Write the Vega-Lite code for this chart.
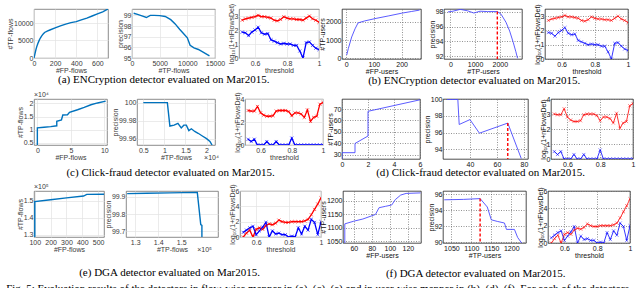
{
"$schema": "https://vega.github.io/schema/vega-lite/v6.json",
"padding": {"left": 6, "top": 2, "right": 0, "bottom": 0},
"background": "white",
"datasets": {
"a1": [{"x":0,"y":0},{"x":5,"y":600},{"x":10,"y":1300},{"x":20,"y":2600},{"x":30,"y":3600},{"x":40,"y":4400},{"x":50,"y":5100},{"x":60,"y":5700},{"x":70,"y":6200},{"x":85,"y":6800},{"x":100,"y":7300},{"x":125,"y":7700},{"x":150,"y":8000},{"x":200,"y":8600},{"x":250,"y":9200},{"x":300,"y":9700},{"x":350,"y":10100},{"x":400,"y":10400},{"x":440,"y":10800},{"x":470,"y":11100},{"x":500,"y":11400},{"x":550,"y":12000},{"x":600,"y":12600},{"x":650,"y":13200},{"x":700,"y":14000}],
"a2": [{"x":300,"y":99.2},{"x":1000,"y":99.1},{"x":1800,"y":98.95},{"x":2600,"y":98.8},{"x":3300,"y":99.0},{"x":4000,"y":99.0},{"x":5000,"y":98.98},{"x":6000,"y":98.9},{"x":7000,"y":98.6},{"x":7800,"y":98.2},{"x":8600,"y":97.7},{"x":9300,"y":97.3},{"x":10000,"y":96.9},{"x":10500,"y":96.2},{"x":11200,"y":95.95},{"x":12000,"y":95.8},{"x":13000,"y":95.5},{"x":14000,"y":95.2}],
"thrA": [
{"t":0.52,"s":"red","v":2.7},{"t":0.54,"s":"red","v":2.8},{"t":0.56,"s":"red","v":2.85},{"t":0.58,"s":"red","v":2.9},{"t":0.60,"s":"red","v":2.95},{"t":0.62,"s":"red","v":3.05},{"t":0.64,"s":"red","v":2.95},{"t":0.66,"s":"red","v":2.95},{"t":0.68,"s":"red","v":2.9},{"t":0.70,"s":"red","v":2.85},{"t":0.72,"s":"red","v":2.7},{"t":0.74,"s":"red","v":2.65},{"t":0.76,"s":"red","v":2.75},{"t":0.78,"s":"red","v":2.95},{"t":0.80,"s":"red","v":2.85},{"t":0.82,"s":"red","v":2.8},{"t":0.84,"s":"red","v":2.8},{"t":0.86,"s":"red","v":2.75},{"t":0.88,"s":"red","v":2.75},{"t":0.90,"s":"red","v":2.7},{"t":0.92,"s":"red","v":2.85},{"t":0.94,"s":"red","v":3.0},{"t":0.96,"s":"red","v":2.8},{"t":0.98,"s":"red","v":2.7},{"t":1.00,"s":"red","v":2.55},
{"t":0.52,"s":"blue","v":1.85},{"t":0.54,"s":"blue","v":1.8},{"t":0.56,"s":"blue","v":1.6},{"t":0.58,"s":"blue","v":1.85},{"t":0.60,"s":"blue","v":2.0},{"t":0.62,"s":"blue","v":2.2},{"t":0.64,"s":"blue","v":1.8},{"t":0.66,"s":"blue","v":1.7},{"t":0.68,"s":"blue","v":1.75},{"t":0.70,"s":"blue","v":1.3},{"t":0.72,"s":"blue","v":1.2},{"t":0.74,"s":"blue","v":1.1},{"t":0.76,"s":"blue","v":1.0},{"t":0.78,"s":"blue","v":1.05},{"t":0.80,"s":"blue","v":1.0},{"t":0.82,"s":"blue","v":1.0},{"t":0.84,"s":"blue","v":0.9},{"t":0.86,"s":"blue","v":0.9},{"t":0.88,"s":"blue","v":0.5},{"t":0.90,"s":"blue","v":0.0},{"t":0.92,"s":"blue","v":1.1},{"t":0.94,"s":"blue","v":1.15},{"t":0.96,"s":"blue","v":0.9},{"t":0.98,"s":"blue","v":0.7},{"t":1.00,"s":"blue","v":0.6}],
"b1": [{"x":2,"y":170},{"x":8,"y":540},{"x":20,"y":1170},{"x":32,"y":1620},{"x":43,"y":1950},{"x":67,"y":2060},{"x":108,"y":2200},{"x":154,"y":2340},{"x":201,"y":2490},{"x":235,"y":2580},{"x":265,"y":2660}],
"b2": [{"x":-100,"y":98.0},{"x":100,"y":98.1},{"x":400,"y":98.35},{"x":700,"y":98.15},{"x":950,"y":97.85},{"x":1200,"y":98.1},{"x":1500,"y":98.05},{"x":1900,"y":98.05},{"x":2050,"y":97.7},{"x":2250,"y":96.6},{"x":2400,"y":95.4},{"x":2550,"y":93.8},{"x":2650,"y":92.6},{"x":2720,"y":91.7}],
"b2r": [{"x":1900,"y":98.05,"y2":91.6}],
"c1": [{"x":0,"y":4200},{"x":0,"y":10700},{"x":1,"y":10950},{"x":2,"y":11200},{"x":2.9,"y":11500},{"x":2.9,"y":13200},{"x":3.6,"y":13700},{"x":3.8,"y":15600},{"x":4.5,"y":15700},{"x":4.8,"y":16600},{"x":6,"y":17600},{"x":7,"y":18500},{"x":8,"y":19500},{"x":9,"y":20200},{"x":10.2,"y":20900}],
"c2": [{"x":5000,"y":100},{"x":10700,"y":100},{"x":11300,"y":99.974},{"x":12300,"y":99.975},{"x":13200,"y":99.977},{"x":14000,"y":99.972},{"x":14600,"y":99.975},{"x":15200,"y":99.975},{"x":15800,"y":99.969},{"x":16400,"y":99.971},{"x":17200,"y":99.968},{"x":18000,"y":99.966},{"x":19000,"y":99.963},{"x":20000,"y":99.96},{"x":20800,"y":99.957},{"x":21300,"y":99.953}],
"thrC": [
{"t":0.52,"s":"red","v":3.0},{"t":0.54,"s":"red","v":2.95},{"t":0.56,"s":"red","v":2.95},{"t":0.58,"s":"red","v":3.35},{"t":0.60,"s":"red","v":2.8},{"t":0.62,"s":"red","v":2.6},{"t":0.64,"s":"red","v":2.5},{"t":0.66,"s":"red","v":2.5},{"t":0.68,"s":"red","v":2.55},{"t":0.70,"s":"red","v":2.95},{"t":0.72,"s":"red","v":3.0},{"t":0.74,"s":"red","v":3.0},{"t":0.76,"s":"red","v":3.0},{"t":0.78,"s":"red","v":2.9},{"t":0.80,"s":"red","v":2.55},{"t":0.82,"s":"red","v":2.8},{"t":0.84,"s":"red","v":2.8},{"t":0.86,"s":"red","v":2.7},{"t":0.88,"s":"red","v":2.4},{"t":0.90,"s":"red","v":3.05},{"t":0.92,"s":"red","v":2.05},{"t":0.94,"s":"red","v":2.4},{"t":0.96,"s":"red","v":2.5},{"t":0.98,"s":"red","v":3.55},{"t":1.00,"s":"red","v":3.7},
{"t":0.52,"s":"blue","v":0.5},{"t":0.54,"s":"blue","v":0.3},{"t":0.56,"s":"blue","v":0.5},{"t":0.58,"s":"blue","v":0.0},{"t":0.60,"s":"blue","v":0.0},{"t":0.62,"s":"blue","v":0.0},{"t":0.64,"s":"blue","v":0.3},{"t":0.66,"s":"blue","v":0.0},{"t":0.68,"s":"blue","v":0.0},{"t":0.70,"s":"blue","v":0.3},{"t":0.72,"s":"blue","v":0.0},{"t":0.74,"s":"blue","v":0.0},{"t":0.76,"s":"blue","v":0.0},{"t":0.78,"s":"blue","v":0.0},{"t":0.80,"s":"blue","v":0.6},{"t":0.82,"s":"blue","v":0.0},{"t":0.84,"s":"blue","v":0.0},{"t":0.86,"s":"blue","v":0.0},{"t":0.88,"s":"blue","v":0.0},{"t":0.90,"s":"blue","v":0.0},{"t":0.92,"s":"blue","v":0.0},{"t":0.94,"s":"blue","v":0.0},{"t":0.96,"s":"blue","v":0.0},{"t":0.98,"s":"blue","v":0.0},{"t":1.00,"s":"blue","v":0.0}],
"d1": [{"x":0,"y":26.5},{"x":0,"y":32},{"x":1,"y":32},{"x":1,"y":40},{"x":2,"y":46.5},{"x":2,"y":68},{"x":6,"y":78}],
"d2": [{"x":23,"y":100},{"x":31,"y":100},{"x":32,"y":96.97},{"x":40,"y":97.56},{"x":47,"y":95.92},{"x":68,"y":97.14},{"x":78,"y":92.86}],
"d2r": [{"x":68,"y":97.14,"y2":92.8}],
"e1": [{"x":100,"y":128650},{"x":100,"y":149600},{"x":200,"y":150700},{"x":300,"y":151800},{"x":408,"y":152900},{"x":428,"y":153900},{"x":537,"y":154000}],
"e2": [{"x":126500,"y":99.918},{"x":135000,"y":99.92},{"x":145000,"y":99.922},{"x":157000,"y":99.925},{"x":158500,"y":99.74},{"x":159000,"y":99.735},{"x":159000,"y":99.668}],
"thrE": [
{"t":0.52,"s":"red","v":0.0},{"t":0.54,"s":"red","v":0.5},{"t":0.56,"s":"red","v":0.9},{"t":0.58,"s":"red","v":0.0},{"t":0.60,"s":"red","v":1.0},{"t":0.62,"s":"red","v":1.2},{"t":0.64,"s":"red","v":1.0},{"t":0.66,"s":"red","v":1.5},{"t":0.68,"s":"red","v":1.7},{"t":0.70,"s":"red","v":1.6},{"t":0.72,"s":"red","v":1.8},{"t":0.74,"s":"red","v":2.2},{"t":0.76,"s":"red","v":2.0},{"t":0.78,"s":"red","v":1.9},{"t":0.80,"s":"red","v":1.9},{"t":0.82,"s":"red","v":2.0},{"t":0.84,"s":"red","v":2.0},{"t":0.86,"s":"red","v":2.0},{"t":0.88,"s":"red","v":2.0},{"t":0.90,"s":"red","v":2.1},{"t":0.92,"s":"red","v":2.3},{"t":0.94,"s":"red","v":2.9},{"t":0.96,"s":"red","v":3.6},{"t":0.98,"s":"red","v":4.3},{"t":1.00,"s":"red","v":5.1},
{"t":0.52,"s":"blue","v":0.6},{"t":0.54,"s":"blue","v":0.9},{"t":0.56,"s":"blue","v":1.2},{"t":0.58,"s":"blue","v":1.4},{"t":0.60,"s":"blue","v":0.3},{"t":0.62,"s":"blue","v":0.8},{"t":0.64,"s":"blue","v":1.3},{"t":0.66,"s":"blue","v":1.9},{"t":0.68,"s":"blue","v":0.0},{"t":0.70,"s":"blue","v":0.8},{"t":0.72,"s":"blue","v":0.4},{"t":0.74,"s":"blue","v":0.5},{"t":0.76,"s":"blue","v":0.3},{"t":0.78,"s":"blue","v":0.3},{"t":0.80,"s":"blue","v":0.0},{"t":0.82,"s":"blue","v":0.1},{"t":0.84,"s":"blue","v":0.0},{"t":0.86,"s":"blue","v":1.2},{"t":0.88,"s":"blue","v":0.4},{"t":0.90,"s":"blue","v":1.4},{"t":0.92,"s":"blue","v":0.9},{"t":0.94,"s":"blue","v":2.3},{"t":0.96,"s":"blue","v":1.9},{"t":0.98,"s":"blue","v":0.3},{"t":1.00,"s":"blue","v":2.0}],
"f1": [{"x":50,"y":1044},{"x":50,"y":1115},{"x":60,"y":1125},{"x":70,"y":1133},{"x":80,"y":1145},{"x":84,"y":1150},{"x":88,"y":1175},{"x":95,"y":1180},{"x":102,"y":1185},{"x":106,"y":1205},{"x":112,"y":1222},{"x":118,"y":1228},{"x":134,"y":1230}],
"f2": [{"x":1032,"y":95.3},{"x":1080,"y":95.35},{"x":1122,"y":95.45},{"x":1140,"y":94.4},{"x":1150,"y":92.8},{"x":1165,"y":92.6},{"x":1183,"y":92.4},{"x":1188,"y":91.6},{"x":1208,"y":91.6},{"x":1216,"y":90.6},{"x":1226,"y":89.9}],
"f2r": [{"x":1122,"y":95.45,"y2":89.9}]
},
"vconcat": [
{"hconcat": [
 {"hconcat": [
  {"width": 74, "height": 49, "data": {"name": "a1"},
   "mark": {"type": "line", "color": "#0072BD", "strokeWidth": 1.4, "clip": true},
   "encoding": {
    "x": {"field": "x", "type": "quantitative", "scale": {"domain": [0, 700], "nice": false, "zero": false}, "axis": {"title": "#FP-flows", "values": [0, 200, 400, 600], "format": "~f"}},
    "y": {"field": "y", "type": "quantitative", "scale": {"domain": [0, 14000], "nice": false, "zero": false}, "axis": {"title": "#TP-flows", "values": [0, 5000, 10000], "format": "~f"}}}},
  {"width": 83, "height": 49, "data": {"name": "a2"},
   "mark": {"type": "line", "color": "#0072BD", "strokeWidth": 1.4, "clip": true},
   "encoding": {
    "x": {"field": "x", "type": "quantitative", "scale": {"domain": [0, 15000], "nice": false, "zero": false}, "axis": {"title": "#TP-flows", "values": [0, 5000, 10000, 15000], "format": "~f"}},
    "y": {"field": "y", "type": "quantitative", "scale": {"domain": [95, 99.6], "nice": false, "zero": false}, "axis": {"title": "precision", "values": [95, 96, 97, 98, 99], "format": "~f"}}}},
  {"width": 80, "height": 49, "data": {"name": "thrA"},
   "mark": {"type": "line", "strokeWidth": 1.3, "clip": true, "point": {"shape": "M-1,-1L1,1M-1,1L1,-1", "filled": false, "size": 10, "strokeWidth": 0.6}},
   "encoding": {
    "x": {"field": "t", "type": "quantitative", "scale": {"domain": [0.5, 1], "nice": false, "zero": false}, "axis": {"title": "threshold", "values": [0.6, 0.8, 1], "format": "~f"}},
    "y": {"field": "v", "type": "quantitative", "scale": {"domain": [0, 3.5], "nice": false, "zero": false}, "axis": {"title": "log₁₀(1+nFlowsDet)", "values": [0, 1, 2, 3], "format": "~f"}},
    "color": {"field": "s", "type": "nominal", "scale": {"domain": ["red", "blue"], "range": ["#ff0000", "#0000ff"]}, "legend": null}}}
 ], "spacing": 24, "bounds": "flush", "align": "none",
 "title": {"text": "(a) ENCryption detector evaluated on Mar2015.", "orient": "bottom", "anchor": "middle", "offset": 1}},
 {"hconcat": [
  {"width": 79, "height": 50, "data": {"name": "b1"}, "view": {"stroke": "#000", "strokeWidth": 0.7},
   "mark": {"type": "line", "color": "#4a4aff", "strokeWidth": 0.9, "clip": true},
   "encoding": {
    "x": {"field": "x", "type": "quantitative", "scale": {"domain": [-15, 270], "nice": false, "zero": false}, "axis": {"title": "#FP-users", "values": [0, 100, 200], "format": "~f", "gridDash": [1, 1.5], "gridColor": "#666", "labelColor": "#111", "titleColor": "#111"}},
    "y": {"field": "y", "type": "quantitative", "scale": {"domain": [-50, 2720], "nice": false, "zero": false}, "axis": {"title": "#TP-users", "values": [0, 1000, 2000], "format": "~f", "gridDash": [1, 1.5], "gridColor": "#666", "labelColor": "#111", "titleColor": "#111"}}}},
  {"width": 78, "height": 50, "view": {"stroke": "#000", "strokeWidth": 0.7},
   "layer": [
    {"data": {"name": "b2"}, "mark": {"type": "line", "color": "#4a4aff", "strokeWidth": 0.9, "clip": true},
     "encoding": {
      "x": {"field": "x", "type": "quantitative", "scale": {"domain": [-260, 2900], "nice": false, "zero": false}, "axis": {"title": "#TP-users", "values": [0, 1000, 2000], "format": "~f", "gridDash": [1, 1.5], "gridColor": "#666", "labelColor": "#111", "titleColor": "#111"}},
      "y": {"field": "y", "type": "quantitative", "scale": {"domain": [91.6, 98.4], "nice": false, "zero": false}, "axis": {"title": "precision", "values": [92, 94, 96, 98], "format": "~f", "gridDash": [1, 1.5], "gridColor": "#666", "labelColor": "#111", "titleColor": "#111"}}}},
    {"data": {"name": "b2r"}, "mark": {"type": "rule", "color": "#ff0000", "strokeWidth": 1.4, "strokeDash": [3, 2]},
     "encoding": {
      "x": {"field": "x", "type": "quantitative", "axis": {"title": "#TP-users", "values": [0, 1000, 2000], "format": "~f", "gridDash": [1, 1.5], "gridColor": "#666", "labelColor": "#111", "titleColor": "#111"}},
      "y": {"field": "y", "type": "quantitative", "axis": {"title": "precision", "values": [92, 94, 96, 98], "format": "~f", "gridDash": [1, 1.5], "gridColor": "#666", "labelColor": "#111", "titleColor": "#111"}},
      "y2": {"field": "y2"}}}
   ]},
  {"width": 83, "height": 50, "data": {"name": "thrA"}, "view": {"stroke": "#000", "strokeWidth": 0.7},
   "mark": {"type": "line", "strokeWidth": 0.8, "clip": true, "point": {"shape": "M-1,-1L1,1M-1,1L1,-1", "filled": false, "size": 10, "strokeWidth": 0.5}},
   "encoding": {
    "x": {"field": "t", "type": "quantitative", "scale": {"domain": [0.5, 1], "nice": false, "zero": false}, "axis": {"title": "threshold", "values": [0.6, 0.8, 1], "format": "~f", "gridDash": [1, 1.5], "gridColor": "#666", "labelColor": "#111", "titleColor": "#111"}},
    "y": {"field": "v", "type": "quantitative", "scale": {"domain": [0, 3.5], "nice": false, "zero": false}, "axis": {"title": "log₁₀(1+nFlowsDet)", "values": [0, 1, 2, 3], "format": "~f", "gridDash": [1, 1.5], "gridColor": "#666", "labelColor": "#111", "titleColor": "#111"}},
    "color": {"field": "s", "type": "nominal", "scale": {"domain": ["red", "blue"], "range": ["#ff0000", "#0000ff"]}, "legend": null}}}
 ], "spacing": 23, "bounds": "flush", "align": "none",
 "title": {"text": "(b) ENCryption detector evaluated on Mar2015.", "orient": "bottom", "anchor": "middle", "offset": 1}}
], "spacing": -4, "align": "none"},
{"hconcat": [
 {"hconcat": [
  {"width": 73, "height": 46, "data": {"name": "c1"},
   "title": {"text": "×10⁴", "anchor": "start", "frame": "group", "font": "Liberation Sans", "fontSize": 7, "color": "#3a3a3a", "offset": 1},
   "mark": {"type": "line", "color": "#0072BD", "strokeWidth": 1.4, "clip": true},
   "encoding": {
    "x": {"field": "x", "type": "quantitative", "scale": {"domain": [-0.5, 10.4], "nice": false, "zero": false}, "axis": {"title": "#FP-flows", "values": [0, 5, 10], "format": "~f"}},
    "y": {"field": "y", "type": "quantitative", "scale": {"domain": [4200, 21700], "nice": false, "zero": false}, "axis": {"title": "#TP-flows", "values": [5000, 10000, 15000, 20000], "labelExpr": "datum.value/10000"}}}},
  {"width": 78, "height": 46, "data": {"name": "c2"},
   "title": {"text": "×10⁴", "orient": "bottom", "anchor": "end", "frame": "group", "font": "Liberation Sans", "fontSize": 7, "color": "#3a3a3a", "offset": -6, "dx": 4},
   "mark": {"type": "line", "color": "#0072BD", "strokeWidth": 1.4, "clip": true},
   "encoding": {
    "x": {"field": "x", "type": "quantitative", "scale": {"domain": [3500, 22000], "nice": false, "zero": false}, "axis": {"title": "#TP-flows", "values": [5000, 10000, 15000, 20000], "labelExpr": "datum.value/10000"}},
    "y": {"field": "y", "type": "quantitative", "scale": {"domain": [99.953, 100.004], "nice": false, "zero": false}, "axis": {"title": "precision", "values": [99.96, 99.98, 100], "format": "~f"}}}},
  {"width": 78, "height": 46, "data": {"name": "thrC"},
   "mark": {"type": "line", "strokeWidth": 1.3, "clip": true, "point": {"shape": "M-1,-1L1,1M-1,1L1,-1", "filled": false, "size": 10, "strokeWidth": 0.6}},
   "encoding": {
    "x": {"field": "t", "type": "quantitative", "scale": {"domain": [0.5, 1], "nice": false, "zero": false}, "axis": {"title": "threshold", "values": [0.6, 0.8, 1], "format": "~f"}},
    "y": {"field": "v", "type": "quantitative", "scale": {"domain": [0, 4], "nice": false, "zero": false}, "axis": {"title": "log₁₀(1+nFlowsDet)", "values": [0, 2, 4], "format": "~f"}},
    "color": {"field": "s", "type": "nominal", "scale": {"domain": ["red", "blue"], "range": ["#ff0000", "#0000ff"]}, "legend": null}}}
 ], "spacing": 30, "bounds": "flush", "align": "none",
 "title": {"text": "(c) Click-fraud detector evaluated on Mar2015.", "orient": "bottom", "anchor": "middle", "offset": 6}},
 {"hconcat": [
  {"width": 78, "height": 60, "data": {"name": "d1"}, "view": {"stroke": "#000", "strokeWidth": 0.7},
   "mark": {"type": "line", "color": "#4a4aff", "strokeWidth": 0.9, "clip": true},
   "encoding": {
    "x": {"field": "x", "type": "quantitative", "scale": {"domain": [0, 6], "nice": false, "zero": false}, "axis": {"title": null, "values": [0, 2, 4, 6], "format": "~f", "gridDash": [1, 1.5], "gridColor": "#666", "labelColor": "#111", "titleColor": "#111"}},
    "y": {"field": "y", "type": "quantitative", "scale": {"domain": [26.5, 78.7], "nice": false, "zero": false}, "axis": {"title": "#TP-users", "values": [30, 40, 50, 60, 70], "format": "~f", "gridDash": [1, 1.5], "gridColor": "#666", "labelColor": "#111", "titleColor": "#111"}}}},
  {"width": 85, "height": 60, "view": {"stroke": "#000", "strokeWidth": 0.7},
   "layer": [
    {"data": {"name": "d2"}, "mark": {"type": "line", "color": "#4a4aff", "strokeWidth": 0.9, "clip": true},
     "encoding": {
      "x": {"field": "x", "type": "quantitative", "scale": {"domain": [20, 83], "nice": false, "zero": false}, "axis": {"title": null, "values": [40, 60, 80], "format": "~f", "gridDash": [1, 1.5], "gridColor": "#666", "labelColor": "#111", "titleColor": "#111"}},
      "y": {"field": "y", "type": "quantitative", "scale": {"domain": [92.8, 100.05], "nice": false, "zero": false}, "axis": {"title": "precision", "values": [94, 96, 98, 100], "format": "~f", "gridDash": [1, 1.5], "gridColor": "#666", "labelColor": "#111", "titleColor": "#111"}}}},
    {"data": {"name": "d2r"}, "mark": {"type": "rule", "color": "#ff0000", "strokeWidth": 1.4, "strokeDash": [3, 2]},
     "encoding": {
      "x": {"field": "x", "type": "quantitative", "axis": {"title": null, "values": [40, 60, 80], "format": "~f", "gridDash": [1, 1.5], "gridColor": "#666", "labelColor": "#111", "titleColor": "#111"}},
      "y": {"field": "y", "type": "quantitative", "axis": {"title": "precision", "values": [94, 96, 98, 100], "format": "~f", "gridDash": [1, 1.5], "gridColor": "#666", "labelColor": "#111", "titleColor": "#111"}},
      "y2": {"field": "y2"}}}
   ]},
  {"width": 82, "height": 60, "data": {"name": "thrC"}, "view": {"stroke": "#000", "strokeWidth": 0.7},
   "mark": {"type": "line", "strokeWidth": 0.8, "clip": true, "point": {"shape": "M-1,-1L1,1M-1,1L1,-1", "filled": false, "size": 10, "strokeWidth": 0.5}},
   "encoding": {
    "x": {"field": "t", "type": "quantitative", "scale": {"domain": [0.5, 1], "nice": false, "zero": false}, "axis": {"title": null, "values": [0.6, 0.8, 1], "format": "~f", "gridDash": [1, 1.5], "gridColor": "#666", "labelColor": "#111", "titleColor": "#111"}},
    "y": {"field": "v", "type": "quantitative", "scale": {"domain": [0, 4], "nice": false, "zero": false}, "axis": {"title": "log₁₀(1+nFlowsDet)", "values": [0, 1, 2, 3, 4], "format": "~f", "gridDash": [1, 1.5], "gridColor": "#666", "labelColor": "#111", "titleColor": "#111"}},
    "color": {"field": "s", "type": "nominal", "scale": {"domain": ["red", "blue"], "range": ["#ff0000", "#0000ff"]}, "legend": null}}}
 ], "spacing": 23, "bounds": "flush", "align": "none",
 "title": {"text": "(d) Click-fraud detector evaluated on Mar2015.", "orient": "bottom", "anchor": "middle", "offset": 0}}
], "spacing": -1, "align": "none"},
{"hconcat": [
 {"hconcat": [
  {"width": 70, "height": 46, "data": {"name": "e1"},
   "title": {"text": "×10⁵", "anchor": "start", "frame": "group", "font": "Liberation Sans", "fontSize": 7, "color": "#3a3a3a", "offset": 1},
   "mark": {"type": "line", "color": "#0072BD", "strokeWidth": 1.4, "clip": true},
   "encoding": {
    "x": {"field": "x", "type": "quantitative", "scale": {"domain": [95, 537], "nice": false, "zero": false}, "axis": {"title": "#FP-flows", "values": [100, 200, 300, 400, 500], "format": "~f"}},
    "y": {"field": "y", "type": "quantitative", "scale": {"domain": [128650, 155900], "nice": false, "zero": false}, "axis": {"title": "#TP-flows", "values": [130000, 140000, 150000], "labelExpr": "datum.value/100000"}}}},
  {"width": 92, "height": 46, "data": {"name": "e2"},
   "title": {"text": "×10⁵", "orient": "bottom", "anchor": "end", "frame": "group", "font": "Liberation Sans", "fontSize": 7, "color": "#3a3a3a", "offset": -6, "dx": -6},
   "mark": {"type": "line", "color": "#0072BD", "strokeWidth": 1.4, "clip": true},
   "encoding": {
    "x": {"field": "x", "type": "quantitative", "scale": {"domain": [126000, 166000], "nice": false, "zero": false}, "axis": {"title": "#TP-flows", "values": [130000, 140000, 150000], "labelExpr": "datum.value/100000"}},
    "y": {"field": "y", "type": "quantitative", "scale": {"domain": [99.668, 99.933], "nice": false, "zero": false}, "axis": {"title": "precision", "values": [99.7, 99.8, 99.9], "format": "~f"}}}},
  {"width": 81, "height": 46, "data": {"name": "thrE"},
   "mark": {"type": "line", "strokeWidth": 1.3, "clip": true, "point": {"shape": "M-1,-1L1,1M-1,1L1,-1", "filled": false, "size": 10, "strokeWidth": 0.6}},
   "encoding": {
    "x": {"field": "t", "type": "quantitative", "scale": {"domain": [0.5, 1], "nice": false, "zero": false}, "axis": {"title": "threshold", "values": [0.6, 0.8, 1], "format": "~f"}},
    "y": {"field": "v", "type": "quantitative", "scale": {"domain": [0, 6], "nice": false, "zero": false}, "axis": {"title": "log₁₀(1+nFlowsDet)", "values": [0, 2, 4, 6], "format": "~f"}},
    "color": {"field": "s", "type": "nominal", "scale": {"domain": ["red", "blue"], "range": ["#ff0000", "#0000ff"]}, "legend": null}}}
 ], "spacing": 22, "bounds": "flush", "align": "none",
 "title": {"text": "(e) DGA detector evaluated on Mar2015.", "orient": "bottom", "anchor": "middle", "offset": 14}},
 {"hconcat": [
  {"width": 78, "height": 52, "data": {"name": "f1"}, "view": {"stroke": "#000", "strokeWidth": 0.7},
   "mark": {"type": "line", "color": "#4a4aff", "strokeWidth": 0.9, "clip": true},
   "encoding": {
    "x": {"field": "x", "type": "quantitative", "scale": {"domain": [48, 134.5], "nice": false, "zero": false}, "axis": {"title": "#FP-users", "values": [60, 80, 100, 120], "format": "~f", "gridDash": [1, 1.5], "gridColor": "#666", "labelColor": "#111", "titleColor": "#111"}},
    "y": {"field": "y", "type": "quantitative", "scale": {"domain": [1044, 1237], "nice": false, "zero": false}, "axis": {"title": "#TP-users", "values": [1050, 1100, 1150, 1200], "format": "~f", "gridDash": [1, 1.5], "gridColor": "#666", "labelColor": "#111", "titleColor": "#111"}}}},
  {"width": 83, "height": 52, "view": {"stroke": "#000", "strokeWidth": 0.7},
   "layer": [
    {"data": {"name": "f2"}, "mark": {"type": "line", "color": "#4a4aff", "strokeWidth": 0.9, "clip": true},
     "encoding": {
      "x": {"field": "x", "type": "quantitative", "scale": {"domain": [1029, 1237], "nice": false, "zero": false}, "axis": {"title": "#TP-users", "values": [1050, 1100, 1150, 1200], "format": "~f", "gridDash": [1, 1.5], "gridColor": "#666", "labelColor": "#111", "titleColor": "#111"}},
      "y": {"field": "y", "type": "quantitative", "scale": {"domain": [89.9, 96.4], "nice": false, "zero": false}, "axis": {"title": "precision", "values": [90, 92, 94, 96], "format": "~f", "gridDash": [1, 1.5], "gridColor": "#666", "labelColor": "#111", "titleColor": "#111"}}}},
    {"data": {"name": "f2r"}, "mark": {"type": "rule", "color": "#ff0000", "strokeWidth": 1.4, "strokeDash": [3, 2]},
     "encoding": {
      "x": {"field": "x", "type": "quantitative", "axis": {"title": "#TP-users", "values": [1050, 1100, 1150, 1200], "format": "~f", "gridDash": [1, 1.5], "gridColor": "#666", "labelColor": "#111", "titleColor": "#111"}},
      "y": {"field": "y", "type": "quantitative", "axis": {"title": "precision", "values": [90, 92, 94, 96], "format": "~f", "gridDash": [1, 1.5], "gridColor": "#666", "labelColor": "#111", "titleColor": "#111"}},
      "y2": {"field": "y2"}}}
   ]},
  {"width": 82, "height": 52, "data": {"name": "thrE"}, "view": {"stroke": "#000", "strokeWidth": 0.7},
   "mark": {"type": "line", "strokeWidth": 0.8, "clip": true, "point": {"shape": "M-1,-1L1,1M-1,1L1,-1", "filled": false, "size": 10, "strokeWidth": 0.5}},
   "encoding": {
    "x": {"field": "t", "type": "quantitative", "scale": {"domain": [0.5, 1], "nice": false, "zero": false}, "axis": {"title": "threshold", "values": [0.6, 0.8, 1], "format": "~f", "gridDash": [1, 1.5], "gridColor": "#666", "labelColor": "#111", "titleColor": "#111"}},
    "y": {"field": "v", "type": "quantitative", "scale": {"domain": [0, 6], "nice": false, "zero": false}, "axis": {"title": "log₁₀(1+nFlowsDet)", "values": [0, 2, 4, 6], "format": "~f", "gridDash": [1, 1.5], "gridColor": "#666", "labelColor": "#111", "titleColor": "#111"}},
    "color": {"field": "s", "type": "nominal", "scale": {"domain": ["red", "blue"], "range": ["#ff0000", "#0000ff"]}, "legend": null}}}
 ], "spacing": 22, "bounds": "flush", "align": "none",
 "title": {"text": "(f) DGA detector evaluated on Mar2015.", "orient": "bottom", "anchor": "middle", "offset": 10}}
], "spacing": -5, "align": "none"}
],
"spacing": 3,
"align": "none",
"title": {"text": "Fig. 5: Evaluation results of the detectors in flow-wise manner in (a), (c), (e) and in user-wise manner in (b), (d), (f). For each of the detectors", "orient": "bottom", "anchor": "start", "offset": 4, "fontSize": 11},
"config": {
 "font": "Liberation Sans",
 "view": {"stroke": "#6e6e6e", "strokeWidth": 0.8},
 "axis": {"labelFontSize": 7, "titleFontSize": 7, "titleFontWeight": "normal", "labelColor": "#3a3a3a", "titleColor": "#3a3a3a", "domain": false, "ticks": false, "labelPadding": 1, "titlePadding": 0, "gridColor": "#e2e2e2", "gridWidth": 0.7, "labelFont": "Liberation Sans", "titleFont": "Liberation Sans", "labelFlush": false, "labelOverlap": false},
 "title": {"font": "Liberation Serif", "fontSize": 11, "fontWeight": "normal", "color": "#000"}
}
}
